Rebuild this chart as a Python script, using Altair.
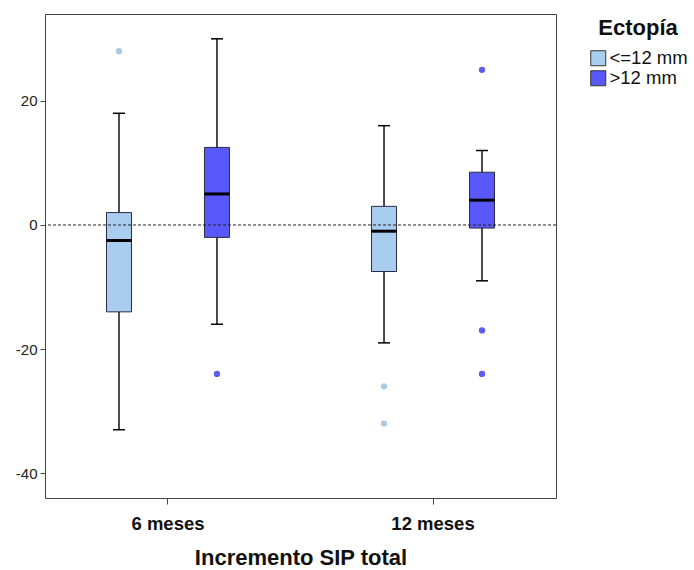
import altair as alt
import pandas as pd

# Box-plot summaries per follow-up period and ectopia group
periodos = ["6 meses", "6 meses", "12 meses", "12 meses"]
ectopia = ["<=12 mm", ">12 mm", "<=12 mm", ">12 mm"]
bigote_inf = [-33, -16, -19, -9]
q1 = [-14, -2, -7.5, -0.5]
mediana = [-2.5, 5, -1, 4]
q3 = [2, 12.5, 3, 8.5]
bigote_sup = [18, 30, 16, 12]

# Outliers
out_periodo = ["6 meses", "6 meses", "12 meses", "12 meses", "12 meses", "12 meses", "12 meses"]
out_ectopia = ["<=12 mm", ">12 mm", "<=12 mm", "<=12 mm", ">12 mm", ">12 mm", ">12 mm"]
out_valor = [28, -24, -26, -32, 25, -17, -24]

orden_periodo = ["6 meses", "12 meses"]
grupos = ["<=12 mm", ">12 mm"]
y_ticks = [-40, -20, 0, 20]

CLARO = "#a9cdee"
OSCURO = "#5959fb"
CLARO_PT = "#adc9e6"
OSCURO_PT = "#5c5cef"
FONT = "Liberation Sans"

cajas = pd.DataFrame({
    "periodo": periodos, "ectopia": ectopia,
    "low": bigote_inf, "q1": q1, "med": mediana, "q3": q3, "high": bigote_sup,
})
atipicos = pd.DataFrame({"periodo": out_periodo, "ectopia": out_ectopia, "valor": out_valor})
referencia = pd.DataFrame({"ref": [0]})

x_enc = alt.X(
    "periodo:N", sort=orden_periodo,
    scale=alt.Scale(paddingInner=0.2, paddingOuter=0.064),
    axis=alt.Axis(title="Incremento SIP total", labelAngle=0, domain=False,
                  tickSize=6, tickColor="#444", labelPadding=10,
                  labelFontSize=18.5, labelFontWeight="bold", labelColor="#111",
                  titleFontSize=22, titleFontWeight="bold", titleColor="#111",
                  titlePadding=15, labelFont=FONT, titleFont=FONT),
)
xo_enc = alt.XOffset("ectopia:N", sort=grupos,
                     scale=alt.Scale(paddingInner=0, paddingOuter=0.082))
y_scale = alt.Scale(domain=[-44, 34], nice=False, zero=False)
y_axis = alt.Axis(title=None, values=y_ticks, grid=False, domain=False,
                  tickSize=5, tickColor="#444", labelPadding=3,
                  labelExpr="toString(datum.value)",
                  labelFontSize=15, labelColor="#222", labelFont=FONT)

base = alt.Chart(cajas).encode(x=x_enc, xOffset=xo_enc)

bigotes = base.mark_rule(color="#111", strokeWidth=1.5).encode(
    y=alt.Y("low:Q", scale=y_scale, axis=y_axis), y2="high:Q")

cuerpo = base.mark_bar(size=25, stroke="#2b2b45", strokeWidth=1).encode(
    y="q1:Q", y2="q3:Q",
    color=alt.Color("ectopia:N", sort=grupos,
                    scale=alt.Scale(domain=grupos, range=[CLARO, OSCURO]),
                    legend=alt.Legend(
                        title="Ectopía", orient="none", legendX=544, legendY=4,
                        titleFontSize=22, titleFontWeight="bold", titleColor="#111",
                        titleFont=FONT, titleAnchor="middle", titlePadding=9,
                        labelFontSize=18.5, labelColor="#111", labelFont=FONT,
                        labelOffset=2, symbolType="square", symbolSize=225,
                        symbolStrokeColor="#333", symbolStrokeWidth=1,
                        symbolOpacity=1, rowPadding=0)),
)

medianas = base.mark_tick(color="#000", opacity=1, thickness=3, size=25).encode(y="med:Q")
tope_inf = base.mark_tick(color="#000", opacity=1, thickness=1.5, size=12).encode(y="low:Q")
tope_sup = base.mark_tick(color="#000", opacity=1, thickness=1.5, size=12).encode(y="high:Q")

puntos = alt.Chart(atipicos).mark_circle(size=40, opacity=1).encode(
    x=x_enc, xOffset=xo_enc, y="valor:Q",
    color=alt.condition(alt.datum.ectopia == "<=12 mm",
                        alt.value(CLARO_PT), alt.value(OSCURO_PT)),
)

linea_cero = alt.Chart(referencia).mark_rule(
    color="#222", strokeWidth=1, strokeDash=[3, 2]).encode(y="ref:Q")

chart = alt.layer(bigotes, cuerpo, medianas, tope_inf, tope_sup, puntos, linea_cero).properties(
    width=511, height=484,
    autosize=alt.AutoSizeParams(type="none"),
    padding={"left": 45, "top": 14, "right": 138, "bottom": 72},
    background="white",
).configure_view(stroke="#444", strokeWidth=1)

chart.save("out.html", embed_options={"renderer": "svg", "actions": False})
